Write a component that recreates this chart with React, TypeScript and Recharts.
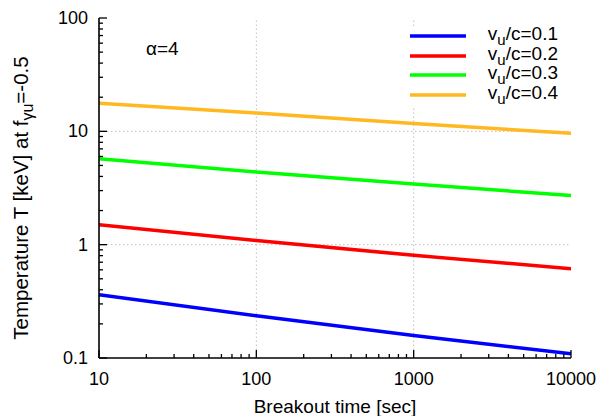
import { LineChart, Line, XAxis, YAxis, Legend, ReferenceLine } from "recharts";

const FONT = '"Liberation Sans", Arial, Helvetica, sans-serif';

// breakout time [sec]
const times = [10, 100, 1000, 10000];
// temperature [keV] for each v_u/c
const temp01 = [0.362, 0.236, 0.158, 0.109];
const temp02 = [1.5, 1.09, 0.805, 0.614];
const temp03 = [5.74, 4.38, 3.43, 2.71];
const temp04 = [17.7, 14.5, 11.7, 9.6];

const seriesLabels = ["0.1", "0.2", "0.3", "0.4"];
const seriesColors = ["#0000ff", "#ff0000", "#00ff00", "#ffb81f"];

const xMajor = [10, 100, 1000, 10000];
const xMinor = [20, 30, 40, 50, 60, 70, 80, 90, 200, 300, 400, 500, 600, 700, 800, 900, 2000, 3000, 4000, 5000, 6000, 7000, 8000, 9000];
const yMajor = [0.1, 1, 10, 100];
const yMinor = [0.2, 0.3, 0.4, 0.5, 0.6, 0.7, 0.8, 0.9, 2, 3, 4, 5, 6, 7, 8, 9, 20, 30, 40, 50, 60, 70, 80, 90];
const xGrid = [100, 1000];
const yGrid = [1, 10];

const data = times.map((t, i) => ({
  t,
  s1: temp01[i],
  s2: temp02[i],
  s3: temp03[i],
  s4: temp04[i],
}));

const TICK_FONT = 18;

// gnuplot-like ticks: drawn inward from the border, minors shorter
function makeTick(side: "bottom" | "top" | "left" | "right", majors: number[], labels: boolean) {
  return (props: any) => {
    const { x, y, payload } = props;
    const v = payload.value;
    const major = majors.includes(v);
    const len = major ? 8 : 4;
    let x2 = x;
    let y2 = y;
    if (side === "bottom") y2 = y - len;
    if (side === "top") y2 = y + len;
    if (side === "left") x2 = x + len;
    if (side === "right") x2 = x - len;
    return (
      <g>
        <line x1={x} y1={y} x2={x2} y2={y2} stroke="#000" strokeWidth={1.3} />
        {labels && major && side === "bottom" && (
          <text x={x} y={y + 27} textAnchor="middle" fontSize={TICK_FONT} fontFamily={FONT} fill="#000">
            {String(v)}
          </text>
        )}
        {labels && major && side === "left" && (
          <text x={x - 11} y={y + 6} textAnchor="end" fontSize={TICK_FONT} fontFamily={FONT} fill="#000">
            {String(v)}
          </text>
        )}
      </g>
    );
  };
}

function renderLegend(props: any) {
  const payload = props.payload || [];
  return (
    <div style={{ background: "#fff", width: 168, height: 80, fontFamily: FONT, fontSize: 19 }}>
      {payload.map((entry: any, i: number) => {
        const m = String(entry.value).match(/^(.)_(.)(.*)$/);
        return (
          <div key={i} style={{ position: "relative", height: 19.6 }}>
            <svg width={56} height={6} style={{ position: "absolute", left: 10, top: 7 }}>
              <line x1={0} y1={3} x2={56} y2={3} stroke={entry.color} strokeWidth={3.5} />
            </svg>
            <span style={{ position: "absolute", right: 10, top: -2, lineHeight: "20px", whiteSpace: "nowrap", color: "#000" }}>
              {m ? m[1] : entry.value}
              {m && <span style={{ fontSize: 15, position: "relative", top: 5 }}>{m[2]}</span>}
              {m ? m[3] : null}
            </span>
          </div>
        );
      })}
    </div>
  );
}

export default function App() {
  return (
    <div style={{ position: "absolute", left: 0, top: 0, width: 604, height: 416, background: "#fff" }}>
      <LineChart width={604} height={416} data={data} margin={{ top: 18, right: 33, bottom: 0, left: 0 }}>
        <XAxis
          dataKey="t"
          type="number"
          scale="log"
          domain={[10, 10000]}
          allowDataOverflow
          ticks={[...xMajor, ...xMinor]}
          interval={0}
          height={58}
          tickSize={0}
          tickMargin={0}
          tickLine={false}
          axisLine={{ stroke: "#000", strokeWidth: 1.6 }}
          tick={makeTick("bottom", xMajor, true)}
          label={{
            content: ({ viewBox }: any) => (
              <text
                x={viewBox.x + viewBox.width / 2}
                y={viewBox.y + 55}
                textAnchor="middle"
                fontSize={19}
                fontFamily={FONT}
                fill="#000"
              >
                Breakout time [sec]
              </text>
            ),
          }}
        />
        <XAxis
          xAxisId="top"
          orientation="top"
          dataKey="t"
          type="number"
          scale="log"
          domain={[10, 10000]}
          allowDataOverflow
          ticks={[...xMajor, ...xMinor]}
          interval={0}
          height={0}
          tickSize={0}
          tickMargin={0}
          tickLine={false}
          axisLine={{ stroke: "#000", strokeWidth: 1.6 }}
          tick={makeTick("top", xMajor, false)}
        />
        <YAxis
          type="number"
          scale="log"
          domain={[0.1, 100]}
          allowDataOverflow
          ticks={[...yMajor, ...yMinor]}
          interval={0}
          width={99}
          tickSize={0}
          tickMargin={0}
          tickLine={false}
          axisLine={{ stroke: "#000", strokeWidth: 1.6 }}
          tick={makeTick("left", yMajor, true)}
          label={{
            content: ({ viewBox }: any) => {
              const cx = viewBox.x + 28;
              const cy = viewBox.y + viewBox.height / 2 + 10;
              return (
                <text
                  x={cx}
                  y={cy}
                  transform={`rotate(-90, ${cx}, ${cy})`}
                  textAnchor="middle"
                  fontSize={20.5}
                  fontFamily={FONT}
                  fill="#000"
                >
                  Temperature T [keV] at f
                  <tspan dy={5} fontSize={16}>γu</tspan>
                  <tspan dy={-5}>=-0.5</tspan>
                </text>
              );
            },
          }}
        />
        <YAxis
          yAxisId="right"
          orientation="right"
          type="number"
          scale="log"
          domain={[0.1, 100]}
          allowDataOverflow
          ticks={[...yMajor, ...yMinor]}
          interval={0}
          width={0}
          tickSize={0}
          tickMargin={0}
          tickLine={false}
          axisLine={{ stroke: "#000", strokeWidth: 1.6 }}
          tick={makeTick("right", yMajor, false)}
        />
        {xGrid.map((v) => (
          <ReferenceLine key={`gx${v}`} x={v} stroke="#c0c0c0" strokeDasharray="1.5 2.5" strokeWidth={1} />
        ))}
        {yGrid.map((v) => (
          <ReferenceLine key={`gy${v}`} y={v} stroke="#c0c0c0" strokeDasharray="1.5 2.5" strokeWidth={1} />
        ))}
        <Legend
          layout="vertical"
          align="center"
          verticalAlign="middle"
          content={renderLegend}
          wrapperStyle={{ position: "absolute", left: 400, top: 26, width: 168, height: 80 }}
        />
        {[temp01, temp02, temp03, temp04].map((_, i) => (
          <Line
            key={i}
            type="linear"
            dataKey={`s${i + 1}`}
            name={`v_u/c=${seriesLabels[i]}`}
            stroke={seriesColors[i]}
            strokeWidth={3.5}
            dot={false}
            activeDot={false}
            isAnimationActive={false}
          />
        ))}
      </LineChart>
      <div
        style={{
          position: "absolute",
          left: 146,
          top: 38,
          fontFamily: FONT,
          fontSize: 19,
          lineHeight: "22px",
          color: "#000",
        }}
      >
        α=4
      </div>
    </div>
  );
}
